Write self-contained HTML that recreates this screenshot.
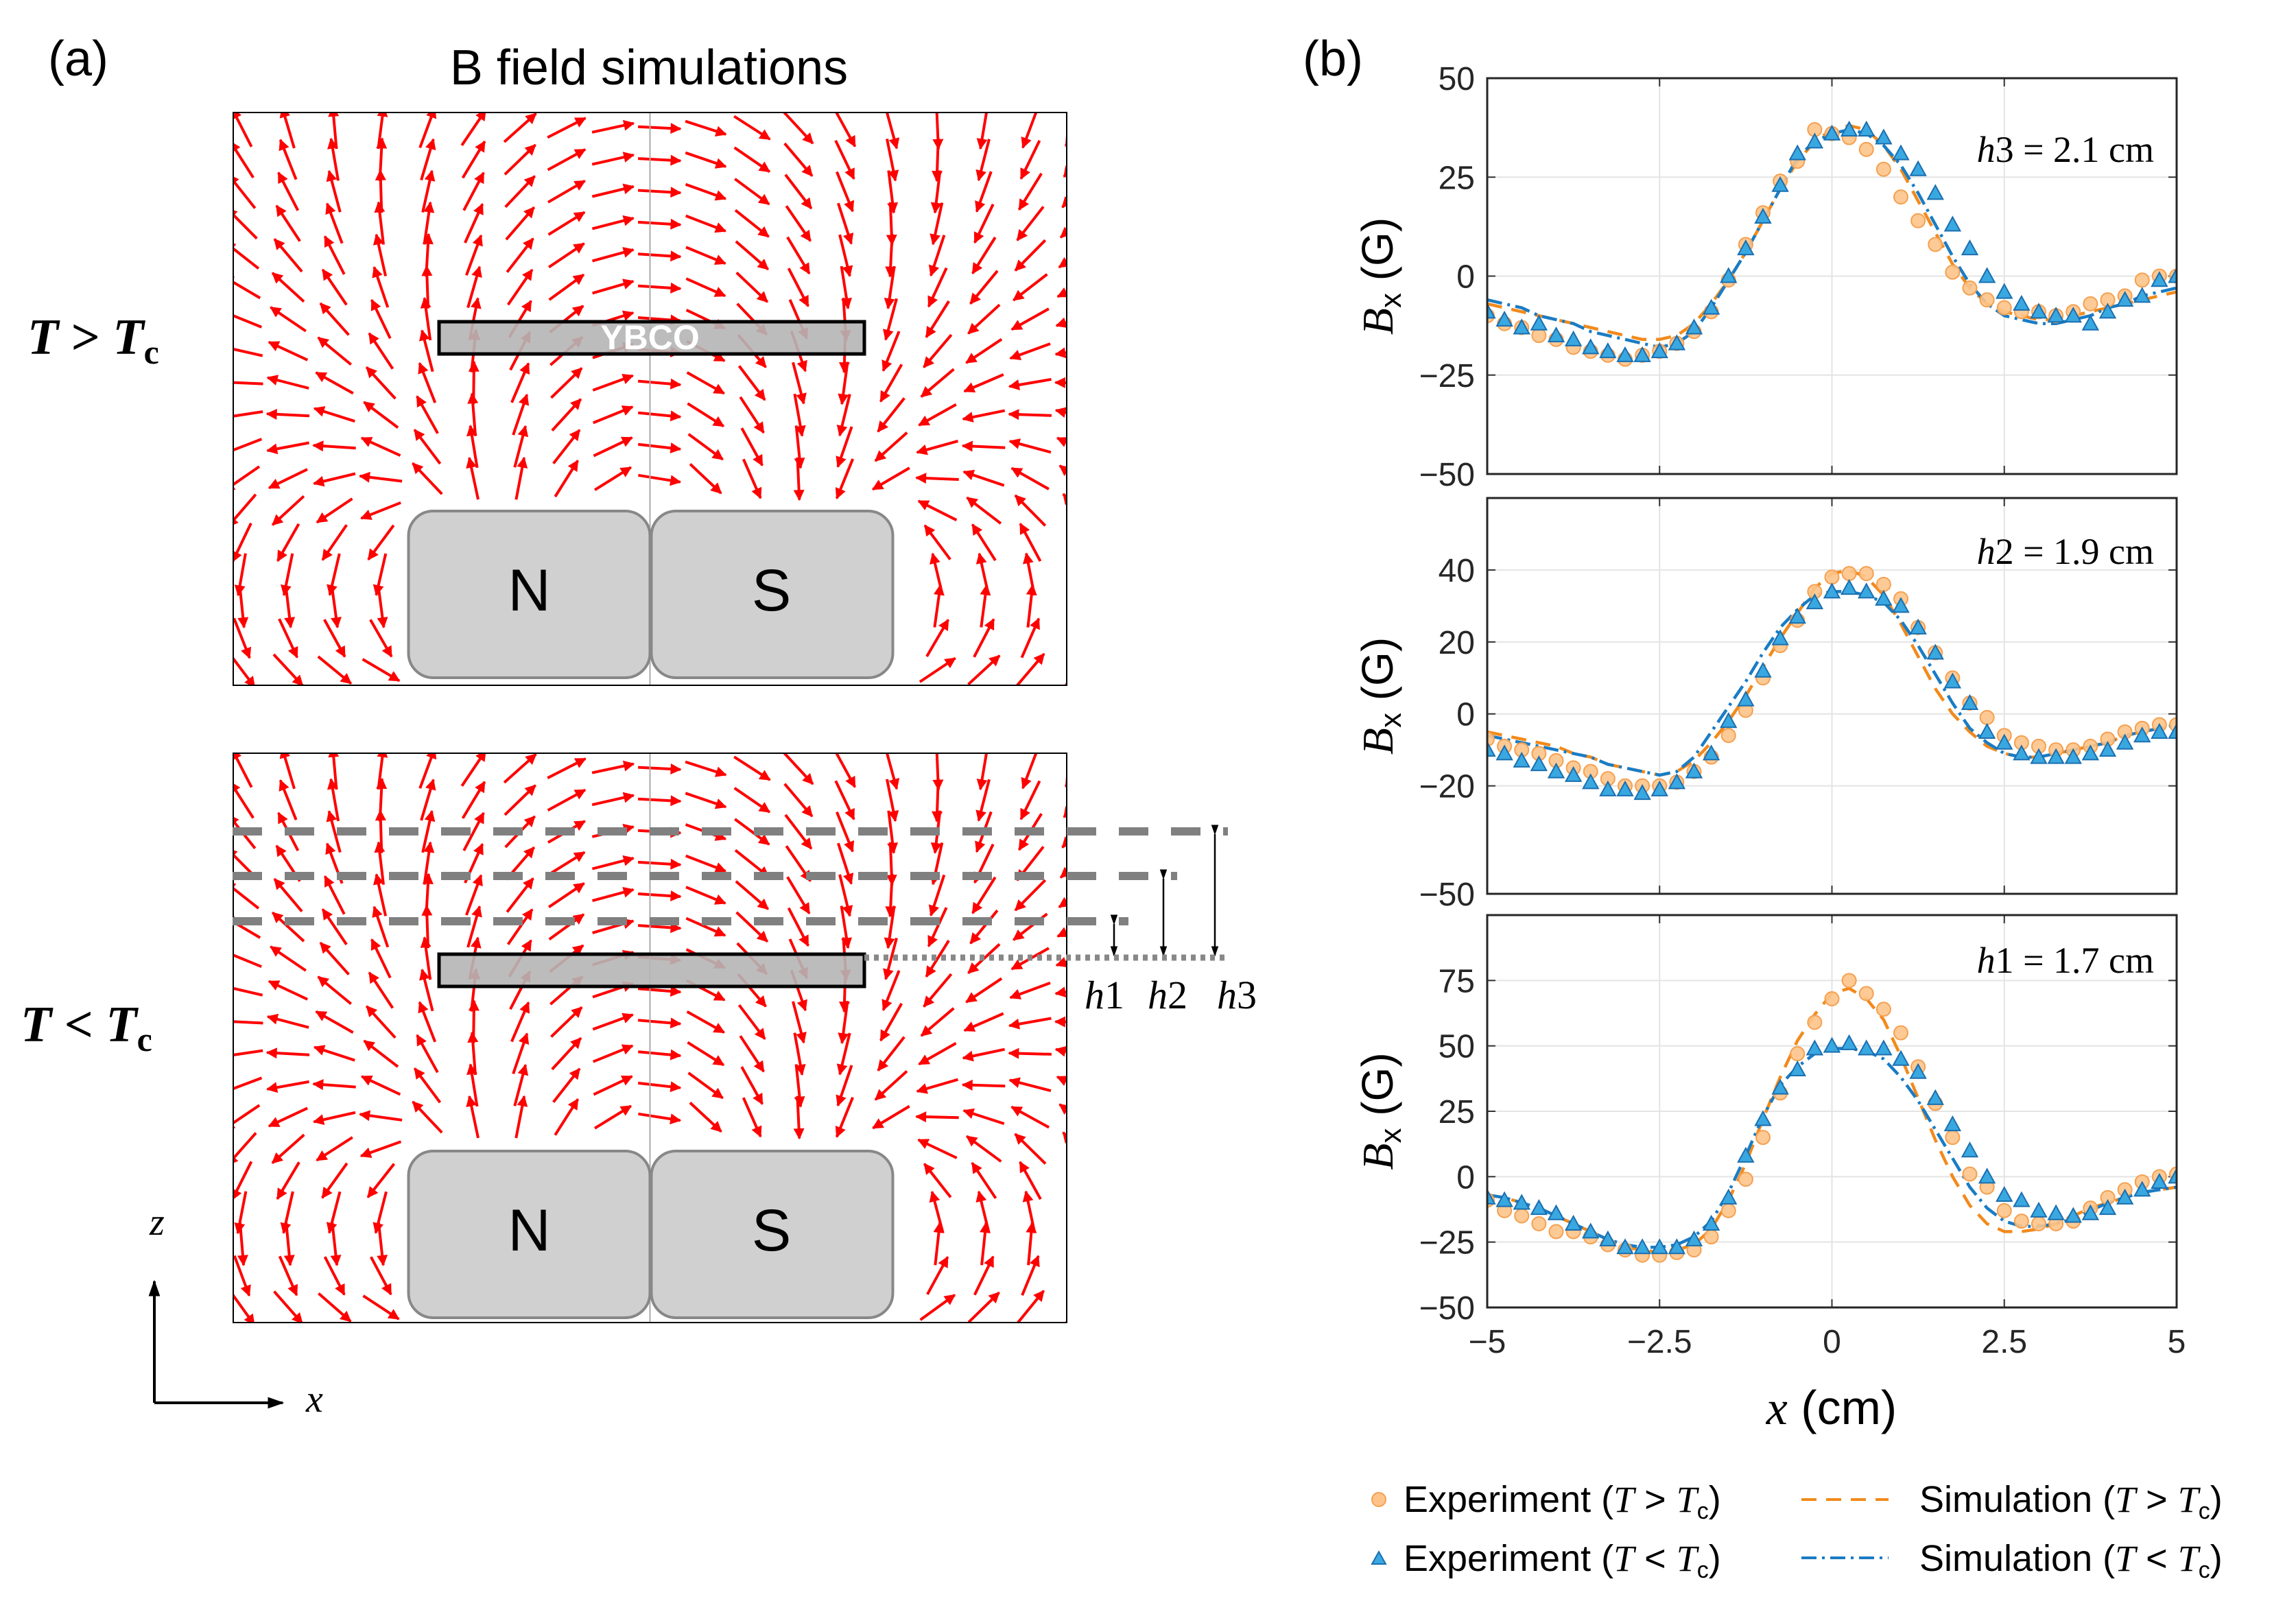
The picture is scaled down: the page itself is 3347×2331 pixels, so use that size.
<!DOCTYPE html>
<html><head><meta charset="utf-8">
<style>
html,body{margin:0;padding:0;background:#fff;}
svg{display:block;}
text{font-family:"Liberation Sans",sans-serif;}
.serif{font-family:"Liberation Serif",serif;}
</style></head>
<body>
<svg id="fig" width="3347" height="2331" viewBox="0 0 3347 2331" xmlns="http://www.w3.org/2000/svg">
<defs>
<marker id="ah" viewBox="0 0 10 10" refX="9" refY="5" markerWidth="4.5" markerHeight="4" orient="auto"><path d="M0,0 L10,5 L0,10 z" fill="#f00"/></marker>
<marker id="blk" viewBox="0 0 10 10" refX="9" refY="5" markerWidth="6" markerHeight="6" orient="auto"><path d="M0,1.5 L10,5 L0,8.5 z" fill="#000"/></marker>
<clipPath id="c1"><rect x="339" y="163" width="1217" height="837"/></clipPath>
<clipPath id="c2"><rect x="339" y="1097" width="1217" height="832"/></clipPath>
</defs>
<text x="70" y="110" font-size="72">(a)</text>
<text x="946" y="123" font-size="72" text-anchor="middle">B field simulations</text>
<text x="1899" y="110" font-size="72">(b)</text>
<g id="fieldA" clip-path="url(#c1)"></g>
<g id="fieldB" clip-path="url(#c2)"></g>
<text class="serif" x="40" y="516" font-size="74" font-weight="bold" font-style="italic">T <tspan font-style="normal">&gt;</tspan> T<tspan font-size="50" dy="14" font-style="normal">c</tspan></text>
<text class="serif" x="30" y="1518" font-size="74" font-weight="bold" font-style="italic">T <tspan font-style="normal">&lt;</tspan> T<tspan font-size="50" dy="14" font-style="normal">c</tspan></text>
<line x1="225" y1="2045" x2="225" y2="1868" stroke="#000" stroke-width="4" marker-end="url(#blk)"/>
<line x1="225" y1="2045" x2="412" y2="2045" stroke="#000" stroke-width="4" marker-end="url(#blk)"/>
<text class="serif" x="218" y="1800" font-size="56" font-style="italic">z</text>
<text class="serif" x="446" y="2058" font-size="56" font-style="italic">x</text>
<g id="plots"></g>
<g>
<circle cx="2010" cy="2186" r="10" fill="#fdc48a" stroke="#f5a050" stroke-width="2"/>
<text x="2046" y="2204" font-size="54">Experiment (<tspan class="serif" font-style="italic">T</tspan> &gt; <tspan class="serif" font-style="italic">T</tspan><tspan font-size="34" dy="10">c</tspan><tspan dy="-10">)</tspan></text>
<path d="M2000,2280 l10,-18 l10,18 z" fill="#3aa8e0" stroke="#1a6fb0" stroke-width="2"/>
<text x="2046" y="2290" font-size="54">Experiment (<tspan class="serif" font-style="italic">T</tspan> &lt; <tspan class="serif" font-style="italic">T</tspan><tspan font-size="34" dy="10">c</tspan><tspan dy="-10">)</tspan></text>
<line x1="2626" y1="2186" x2="2753" y2="2186" stroke="#f28a1c" stroke-width="4" stroke-dasharray="22,14"/>
<text x="2798" y="2204" font-size="54">Simulation (<tspan class="serif" font-style="italic">T</tspan> &gt; <tspan class="serif" font-style="italic">T</tspan><tspan font-size="34" dy="10">c</tspan><tspan dy="-10">)</tspan></text>
<line x1="2626" y1="2271" x2="2753" y2="2271" stroke="#1a7cc4" stroke-width="4" stroke-dasharray="22,8,4,8"/>
<text x="2798" y="2290" font-size="54">Simulation (<tspan class="serif" font-style="italic">T</tspan> &lt; <tspan class="serif" font-style="italic">T</tspan><tspan font-size="34" dy="10">c</tspan><tspan dy="-10">)</tspan></text>
</g>
<text x="2670" y="2076" font-size="70" text-anchor="middle"><tspan class="serif" font-style="italic">x</tspan> (cm)</text>
</svg>
<script>
var NS="http://www.w3.org/2000/svg";
// ---- chart data (x = -5..5 step 0.25) ----
var xStart=-5, xStep=0.25;
var xTicks=[-5,-2.5,0,2.5,5];
var xTickLabels=["\u22125","\u22122.5","0","2.5","5"];
var h3ExpAbove=[-10,-12,-13,-15,-16,-18,-19,-20,-21,-20,-19,-17,-14,-9,-1,8,16,24,29,37,36,35,32,27,20,14,8,1,-3,-6,-8,-9,-9,-10,-9,-7,-6,-5,-1,0,0];
var h3ExpBelow=[-9,-11,-13,-12,-15,-16,-18,-19,-20,-20,-19,-17,-13,-8,0,7,15,23,31,34,36,37,37,35,31,27,21,13,7,0,-4,-7,-9,-10,-10,-12,-9,-6,-5,-1,0];
var h3SimAbove=[-7,-8,-9,-10,-11,-12,-13,-14,-15,-16,-16,-15,-12,-7,-1,6,14,22,29,34,37,38,37,33,27,19,11,3,-3,-7,-9,-10,-11,-11,-10,-9,-8,-7,-6,-5,-4];
var h3SimBelow=[-6,-7,-8,-10,-11,-12,-14,-15,-16,-17,-18,-17,-14,-8,-1,6,14,22,30,34,36,37,36,33,28,21,13,5,-2,-7,-10,-11,-12,-12,-11,-10,-8,-7,-5,-4,-3];
var h2ExpAbove=[-7,-9,-10,-11,-13,-15,-16,-18,-20,-20,-20,-19,-16,-12,-6,1,10,19,26,34,38,39,39,36,32,24,17,10,3,-1,-6,-8,-9,-10,-10,-9,-7,-5,-4,-3,-3];
var h2ExpBelow=[-10,-11,-13,-14,-16,-17,-19,-21,-21,-22,-21,-19,-16,-11,-2,4,12,21,27,31,34,35,34,32,30,24,17,9,3,-5,-8,-11,-12,-12,-12,-11,-10,-8,-6,-5,-5];
var h2SimAbove=[-5,-6,-7,-8,-9,-11,-12,-14,-15,-16,-17,-16,-13,-8,-2,5,13,21,28,35,39,40,38,33,25,16,7,0,-5,-9,-11,-12,-12,-11,-10,-9,-8,-6,-5,-4,-4];
var h2SimBelow=[-6,-7,-8,-9,-10,-11,-12,-14,-15,-16,-17,-16,-12,-5,2,9,17,24,29,33,34,34,33,31,26,19,11,3,-4,-8,-11,-12,-12,-11,-10,-9,-8,-6,-5,-4,-3];
var h1ExpAbove=[-9,-13,-15,-18,-21,-21,-23,-26,-28,-30,-30,-29,-28,-23,-13,-1,15,32,47,59,68,75,70,64,55,42,28,15,1,-4,-13,-17,-18,-18,-17,-12,-8,-5,-2,0,1];
var h1ExpBelow=[-8,-9,-10,-12,-14,-18,-21,-24,-27,-27,-27,-27,-24,-18,-8,8,22,34,41,49,50,51,49,49,45,40,30,20,10,0,-7,-9,-13,-14,-15,-14,-12,-8,-5,-2,0];
var h1SimAbove=[-7,-8,-10,-12,-15,-18,-21,-24,-27,-28,-29,-28,-26,-20,-9,5,22,38,52,62,70,72,68,60,46,30,14,0,-11,-18,-21,-21,-20,-18,-15,-12,-10,-8,-6,-5,-4];
var h1SimBelow=[-7,-8,-10,-12,-15,-18,-21,-24,-26,-27,-27,-26,-23,-17,-6,8,23,35,42,47,49,49,48,45,38,29,18,7,-4,-12,-17,-19,-19,-18,-16,-13,-10,-8,-6,-5,-4];
var h3Ticks=[-50,-25,0,25,50], h2Ticks=[-50,-20,0,20,40], h1Ticks=[-50,-25,0,25,50,75];
var panelLabels=["h3 = 2.1 cm","h2 = 1.9 cm","h1 = 1.7 cm"];

var panels=[
 {name:"h3",top:114,bot:691,ymin:-50,ymax:50,ticks:h3Ticks,ea:h3ExpAbove,eb:h3ExpBelow,sa:h3SimAbove,sb:h3SimBelow,lab:panelLabels[0],labY:236},
 {name:"h2",top:726,bot:1303,ymin:-50,ymax:60,ticks:h2Ticks,ea:h2ExpAbove,eb:h2ExpBelow,sa:h2SimAbove,sb:h2SimBelow,lab:panelLabels[1],labY:822},
 {name:"h1",top:1334,bot:1906,ymin:-50,ymax:100,ticks:h1Ticks,ea:h1ExpAbove,eb:h1ExpBelow,sa:h1SimAbove,sb:h1SimBelow,lab:panelLabels[2],labY:1418}
];
var L=2168,R=3173;
function mk(tag,attrs,parent){var e=document.createElementNS(NS,tag);for(var k in attrs)e.setAttribute(k,attrs[k]);(parent||document.getElementById('plots')).appendChild(e);return e;}
function xs(x){return L+(x+5)/10*(R-L);}
panels.forEach(function(p,pi){
  function ys(v){return p.bot-(v-p.ymin)/(p.ymax-p.ymin)*(p.bot-p.top);}
  var g=mk('g',{});
  
  
  var clipId='pc'+pi;
  var cp=mk('clipPath',{id:clipId},g);mk('rect',{x:L,y:p.top,width:R-L,height:p.bot-p.top},cp);
  mk('rect',{x:L,y:p.top,width:R-L,height:p.bot-p.top,fill:'#fff'},g);
  xTicks.forEach(function(t){var gl=mk('line',{x1:xs(t),x2:xs(t),y1:p.top,y2:p.bot,stroke:'#e4e4e4','stroke-width':2},g);
    
    mk('line',{x1:xs(t),x2:xs(t),y1:p.bot,y2:p.bot-12,stroke:'#333','stroke-width':2},g);
    mk('line',{x1:xs(t),x2:xs(t),y1:p.top,y2:p.top+12,stroke:'#333','stroke-width':2},g);});
  p.ticks.forEach(function(t){
    mk('line',{x1:L,x2:R,y1:ys(t),y2:ys(t),stroke:'#e4e4e4','stroke-width':2},g);
    mk('line',{x1:L,x2:L+12,y1:ys(t),y2:ys(t),stroke:'#333','stroke-width':2},g);
    mk('line',{x1:R,x2:R-12,y1:ys(t),y2:ys(t),stroke:'#333','stroke-width':2},g);
    var tx=mk('text',{x:L-18,y:ys(t)+17,'font-size':48,'text-anchor':'end',fill:'#262626'},g);
    tx.textContent=(t<0?'\u2212'+(-t):''+t);
    
  });
  var pg=mk('g',{'clip-path':'url(#'+clipId+')'},g);
  function line(arr,col,dash,nm){var d='';arr.forEach(function(v,i){d+=(i?'L':'M')+xs(xStart+i*xStep).toFixed(1)+','+ys(v).toFixed(1);});
    var e=mk('path',{d:d,fill:'none',stroke:col,'stroke-width':4.5,'stroke-dasharray':dash},pg);
    }
  line(p.sa,'#f28a1c','22,14','sim-above-line');
  line(p.sb,'#1a7cc4','22,8,4,8','sim-below-line');
  p.ea.forEach(function(v,i){var c=mk('circle',{cx:xs(xStart+i*xStep),cy:ys(v),r:10,fill:'#fdc48a',stroke:'#f5a050','stroke-width':2,'fill-opacity':0.9},pg);
    });
  p.eb.forEach(function(v,i){var x=xs(xStart+i*xStep),y=ys(v);var t=mk('path',{d:'M'+(x-11)+','+(y+9)+' L'+x+','+(y-11)+' L'+(x+11)+','+(y+9)+' z',fill:'#3aa8e0',stroke:'#1a6fb0','stroke-width':2},pg);
    });
  mk('rect',{x:L,y:p.top,width:R-L,height:p.bot-p.top,fill:'none',stroke:'#262626','stroke-width':3},g);
  var lb=mk('text',{x:3140,y:p.labY,'font-size':54,'text-anchor':'end',class:'serif'},g);
  lb.innerHTML='<tspan font-style="italic">h</tspan>'+p.lab.slice(1);
  
  var yl=mk('text',{transform:'translate(2030,'+((p.top+p.bot)/2)+') rotate(-90)','font-size':64,'text-anchor':'middle'},g);
  yl.innerHTML='<tspan class="serif" font-style="italic">B</tspan><tspan font-size="44" dy="12">x</tspan><tspan dy="-12"> (G)</tspan>';
  
  if(pi===2){xTicks.forEach(function(t,i){var tx=mk('text',{x:xs(t),y:p.bot+66,'font-size':48,'text-anchor':'middle',fill:'#262626'},g);
    tx.textContent=xTickLabels[i];});}
});

// ---- field panels ----
function drawField(gid,X0,Y0,W,H,magTop,ybcoY,lower){
  var g=document.getElementById(gid);
  var cx=X0+W/2;
  var magL=cx-352,magR=cx+354,magBot=magTop+243;
  var ncol=18,nrow=18,dx=W/ncol,dy=H/nrow;
  function field(px,py){var bx=0,by=0;
    var srcs=[];
    for(var k=0;k<12;k++){var xl=magL+ (k+0.5)*(cx-magL)/12, xr=cx+(k+0.5)*(magR-cx)/12;
      srcs.push([xl,magTop,1],[xl,magBot,-1],[xr,magTop,-1],[xr,magBot,1]);}
    srcs.forEach(function(s){var rx=px-s[0],ry=py-s[1];var r2=rx*rx+ry*ry+50;bx+=s[2]*rx/r2;by+=s[2]*ry/r2;});
    return [bx,by];}
  for(var i=0;i<=ncol;i++)for(var j=0;j<=nrow;j++){
    var px=X0+i*dx+dx*0.2,py=Y0+j*dy+dy*0.5;
    if(px>magL-10&&px<magR+10&&py>magTop-5)continue;
    var f=field(px,py);var m=Math.hypot(f[0],f[1])||1;var len=62;
    var ux=f[0]/m*len,uy=f[1]/m*len;
    var a=document.createElementNS(NS,'line');
    a.setAttribute('x1',(px-ux/2).toFixed(1));a.setAttribute('y1',(py-uy/2).toFixed(1));
    a.setAttribute('x2',(px+ux/2).toFixed(1));a.setAttribute('y2',(py+uy/2).toFixed(1));
    a.setAttribute('stroke','#f00');a.setAttribute('stroke-width','4');a.setAttribute('marker-end','url(#ah)');
    
    
    g.appendChild(a);}
  function add(tag,at,nm){var e=document.createElementNS(NS,tag);for(var k in at)e.setAttribute(k,at[k]);
    
    
    g.appendChild(e);return e;}
  add('line',{x1:cx,x2:cx,y1:Y0,y2:Y0+H,stroke:'#aaa','stroke-width':2},'center-line');
  add('rect',{x:640,y:ybcoY,width:620,height:47,fill:'#b5b5b5','fill-opacity':0.9,stroke:'#000','stroke-width':5},'ybco-plate');
  if(!lower){var t=add('text',{x:cx,y:ybcoY+40,'font-size':50,'font-weight':'bold','text-anchor':'middle',fill:'#fff'},'ybco-label');t.textContent='YBCO';}
  add('rect',{x:magL,y:magTop,width:cx-magL,height:243,rx:36,fill:'#d0d0d0',stroke:'#888','stroke-width':4},'magnet-n');
  add('rect',{x:cx+2,y:magTop,width:magR-cx-2,height:243,rx:36,fill:'#d0d0d0',stroke:'#888','stroke-width':4},'magnet-s');
  var n=add('text',{x:(magL+cx)/2,y:magTop+145,'font-size':86,'text-anchor':'middle'},'magnet-n-label');n.textContent='N';
  var s=add('text',{x:(magR+cx)/2,y:magTop+145,'font-size':86,'text-anchor':'middle'},'magnet-s-label');s.textContent='S';
  add('rect',{x:X0,y:Y0,width:W,height:H,fill:'none',stroke:'#000','stroke-width':4},'field-frame');
}
drawField('fieldA',339,163,1217,837,745,469,false);
drawField('fieldB',339,1097,1217,832,1678,1391,true);
// height annotations
(function(){
 var svg=document.getElementById('fig');
 var hs=[[1343,1645,1624,'h1',1610],[1277,1716,1696,'h2',1702],[1212,1790,1771,'h3',1803]];
 hs.forEach(function(h){
  var l=document.createElementNS(NS,'line');
  l.setAttribute('x1',339);l.setAttribute('x2',h[1]);l.setAttribute('y1',h[0]);l.setAttribute('y2',h[0]);
  l.setAttribute('stroke','#808080');l.setAttribute('stroke-width','12');l.setAttribute('stroke-dasharray','43,33');
  
  
  svg.appendChild(l);
  var a=document.createElementNS(NS,'line');
  a.setAttribute('x1',h[2]);a.setAttribute('x2',h[2]);a.setAttribute('y1',h[0]+4);a.setAttribute('y2',1393);
  a.setAttribute('stroke','#000');a.setAttribute('stroke-width','2.5');
  a.setAttribute('marker-end','url(#blk)');a.setAttribute('marker-start','url(#blk)');
  
  
  svg.appendChild(a);
  var t=document.createElementNS(NS,'text');
  t.setAttribute('x',h[4]);t.setAttribute('y',1470);t.setAttribute('font-size','58');t.setAttribute('class','serif');t.setAttribute('text-anchor','middle');
  t.innerHTML='<tspan font-style="italic">h</tspan>'+h[3].slice(1);
  
  
  svg.appendChild(t);
 });
 var d=document.createElementNS(NS,'line');
 d.setAttribute('x1',1260);d.setAttribute('x2',1790);d.setAttribute('y1',1396);d.setAttribute('y2',1396);
 d.setAttribute('stroke','#888');d.setAttribute('stroke-width','9');d.setAttribute('stroke-dasharray','7,7');
 
 
 svg.appendChild(d);
})();
</script>
</body></html>
